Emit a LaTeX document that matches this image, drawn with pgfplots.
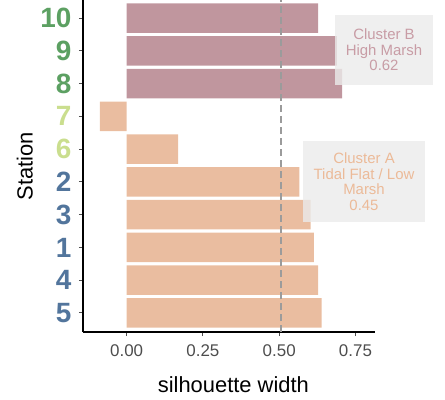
\documentclass[border=0pt]{standalone}
\usepackage{pgfplots}
\pgfplotsset{compat=1.18}
\usepackage{fontspec}
\setmainfont{Liberation Sans}

\definecolor{marsh}{RGB}{192,150,158}
\definecolor{flat}{RGB}{234,189,160}
\definecolor{marshtext}{RGB}{200,156,165}
\definecolor{flattext}{RGB}{236,186,152}
\definecolor{boxgray}{RGB}{235,235,235}
\definecolor{grpgreen}{RGB}{92,160,98}
\definecolor{grplime}{RGB}{202,222,142}
\definecolor{grpblue}{RGB}{82,117,156}
\definecolor{tickgray}{RGB}{77,77,77}
\definecolor{refgray}{RGB}{155,155,155}

\begin{document}
\begin{tikzpicture}
\begin{axis}[
  at={(0,0)}, anchor=south west,
  scale only axis, width=292bp, height=332bp,
  xmin=-0.143, xmax=0.814, ymin=0.42, ymax=10.55,
  axis x line*=bottom, axis y line*=left,
  axis line style={black, line width=1.2bp, -},
  xtick={0,0.25,0.5,0.75},
  /pgf/number format/fixed, /pgf/number format/fixed zerofill,
  /pgf/number format/precision=2, /pgf/number format/assume math mode=true,
  xticklabel style={font=\fontsize{17}{17}\selectfont, text=tickgray, yshift=-5bp},
  ytick={1,...,10},
  yticklabels={{\textcolor{grpblue}{5}},{\textcolor{grpblue}{4}},{\textcolor{grpblue}{1}},
    {\textcolor{grpblue}{3}},{\textcolor{grpblue}{2}},{\textcolor{grplime}{6}},
    {\textcolor{grplime}{7}},{\textcolor{grpgreen}{8}},{\textcolor{grpgreen}{9}},
    {\textcolor{grpgreen}{10}}},
  yticklabel style={font=\fontsize{28}{28}\selectfont\bfseries, xshift=-4bp},
  tick style={tickgray, line width=1bp},
  major tick length=4bp, tick align=outside,
  xlabel={silhouette width}, ylabel={Station},
  label style={font=\fontsize{22}{22}\selectfont, text=black},
  xlabel style={at={(axis description cs:0.515,-0.16)}, anchor=center},
  ylabel style={at={(axis description cs:-0.199,0.5)}, anchor=center},
  clip=false,
]
% Cluster A stations (tidal flat / low marsh)
\addplot[xbar, bar width=0.9, bar shift=0pt, fill=flat, draw=none]
  coordinates {(0.639,1) (0.628,2) (0.614,3) (0.603,4) (0.566,5) (0.169,6) (-0.088,7)};
% Cluster B stations (high marsh)
\addplot[xbar, bar width=0.9, bar shift=0pt, fill=marsh, draw=none]
  coordinates {(0.706,8) (0.689,9) (0.628,10)};
% average silhouette width
\addplot[refgray, line width=2.2bp, dash pattern=on 7bp off 4bp]
  coordinates {(0.505,0.42) (0.505,10.55)};
% cluster annotations
\node[fill=boxgray, fill opacity=0.8, text opacity=1, text=marshtext,
  minimum width=98bp, minimum height=70bp, inner sep=0pt, align=center,
  font=\fontsize{15}{15.5}\selectfont]
  at (axis cs:0.8435,9.03) {Cluster B\\High Marsh\\0.62};
\node[fill=boxgray, fill opacity=0.8, text opacity=1, text=flattext,
  minimum width=122bp, minimum height=81bp, inner sep=0pt, align=center,
  font=\fontsize{15}{15.5}\selectfont]
  at (axis cs:0.778,5.01) {Cluster A\\Tidal Flat / Low\\Marsh\\0.45};
\end{axis}
\pgfresetboundingbox
\path[use as bounding box] (-83bp,-68bp) rectangle (362bp,332bp);
\end{tikzpicture}
\end{document}
